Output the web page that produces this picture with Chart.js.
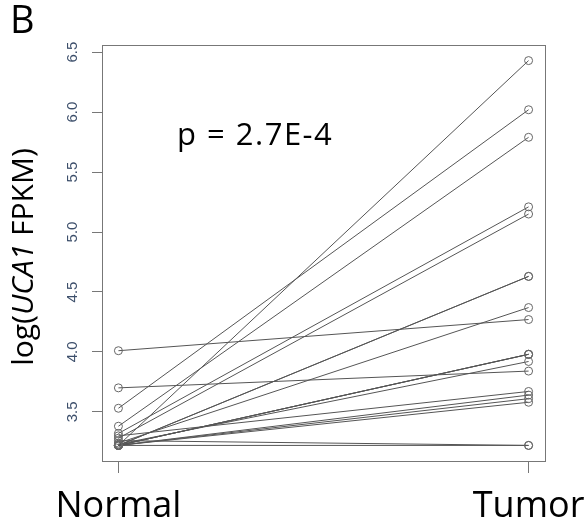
<!DOCTYPE html>
<html>
<head>
<meta charset="utf-8">
<script src="https://cdn.jsdelivr.net/npm/chart.js@4.4.0/dist/chart.umd.min.js"></script>
<style>
  html, body { margin: 0; padding: 0; background: #fff; }
  #wrap { position: relative; width: 587px; height: 529px; font-family: "Open Sans", sans-serif; }
  #wrap canvas { position: absolute; left: 0; top: 0; }
  .lbl { position: absolute; color: #000; white-space: nowrap; line-height: 1.36; }
  #panel { left: 10px; top: -7px; font-size: 38px; }
  #pval { left: 177px; top: 112px; font-size: 31px; letter-spacing: 1.5px; }
  #ytitle { left: 22px; top: 257px; font-size: 30px; transform: translate(-50%, -50%) rotate(-90deg); }
</style>
</head>
<body>
<div id="wrap">
  <canvas id="chart" width="587" height="529"></canvas>
  <div class="lbl" id="panel">B</div>
  <div class="lbl" id="pval">p = 2.7E-4</div>
  <div class="lbl" id="ytitle">log(<i>UCA1</i> FPKM)</div>
</div>
<script>
// groups on the x axis
const groups = ["Normal", "Tumor"];
// paired log(FPKM) per sample
const normalVals = [4.01, 3.70, 3.53, 3.38, 3.22, 3.32, 3.28, 3.22, 3.22, 3.24,
                    3.22, 3.22, 3.23, 3.30, 3.22, 3.22, 3.22, 3.26, 3.22, 3.22];
const tumorVals  = [4.27, 3.84, 6.02, 5.79, 6.43, 5.21, 5.15, 4.63, 4.63, 4.37,
                    3.98, 3.98, 3.92, 3.67, 3.64, 3.61, 3.58, 3.22, 3.22, 3.98];
const yTicks = [3.5, 4.0, 4.5, 5.0, 5.5, 6.0, 6.5];

const datasets = normalVals.map((n, i) => ({
  data: [{ x: 1, y: n }, { x: 2, y: tumorVals[i] }],
  showLine: true,
  borderColor: "#555",
  borderWidth: 1,
  pointRadius: 4,
  pointBorderWidth: 1,
  pointBorderColor: "#666",
  pointBackgroundColor: "rgba(0,0,0,0)",
}));

// R-style box around the plot region
const boxPlugin = {
  id: "box",
  afterDraw(chart) {
    const { ctx, chartArea: a } = chart;
    ctx.save();
    ctx.strokeStyle = "#777";
    ctx.lineWidth = 1;
    ctx.strokeRect(a.left + 0.5, a.top + 0.5, a.right - a.left, a.bottom - a.top);
    ctx.restore();
  },
};

new Chart(document.getElementById("chart"), {
  type: "scatter",
  data: { datasets },
  plugins: [boxPlugin],
  options: {
    responsive: false,
    animation: false,
    layout: { padding: { left: 50, top: 45, right: 42, bottom: 0 } },
    plugins: { legend: { display: false }, tooltip: { enabled: false } },
    scales: {
      x: {
        type: "linear",
        min: 0.96,
        max: 2.04,
        afterBuildTicks: (s) => { s.ticks = groups.map((g, i) => ({ value: i + 1 })); },
        afterFit: (s) => { s.height = 68; s.paddingLeft = 0; s.paddingRight = 0; },
        ticks: {
          callback: (v) => groups[v - 1],
          color: "#000",
          font: { family: "Open Sans", size: 36 },
          padding: 12,
          maxRotation: 0,
          autoSkip: false,
        },
        grid: { drawOnChartArea: false, tickLength: 12, color: "#777" },
        border: { display: false },
      },
      y: {
        min: 3.09,
        max: 6.56,
        afterBuildTicks: (s) => { s.ticks = yTicks.map((v) => ({ value: v })); },
        afterFit: (s) => { s.width = 52; s.paddingTop = 0; s.paddingBottom = 0; },
        ticks: {
          callback: (v) => v.toFixed(1),
          color: "#3d4f6b",
          font: { family: "Liberation Sans", size: 15 },
          minRotation: 90,
          maxRotation: 90,
          crossAlign: "center",
          padding: 9,
        },
        grid: { drawOnChartArea: false, tickLength: 10, color: "#777" },
        border: { display: false },
      },
    },
  },
});
</script>
</body>
</html>
